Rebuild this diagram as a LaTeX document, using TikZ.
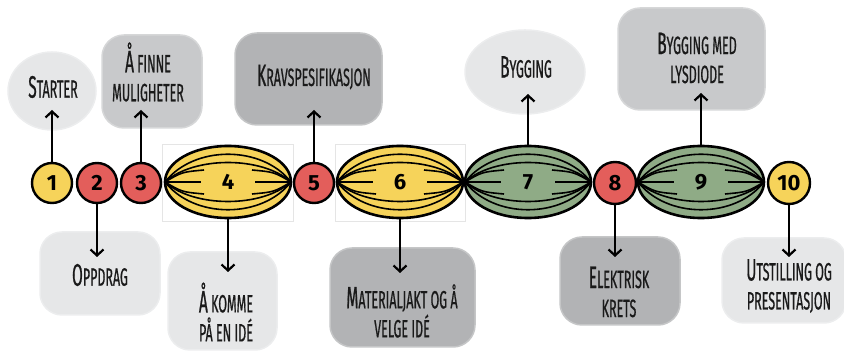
\documentclass[tikz,border=0pt]{standalone}
\usepackage{fontspec}
\setmainfont{Fira Sans}
\newfontfamily\hand[FakeStretch=0.5,FakeBold=0.6]{Fira Sans}
\usetikzlibrary{arrows.meta,shapes.geometric}
\definecolor{yel}{HTML}{F6D35A}
\definecolor{rd}{HTML}{E35E5B}
\definecolor{grn}{HTML}{8FAB86}
\definecolor{gl}{HTML}{E6E7E8}
\definecolor{gm}{HTML}{C8C9CB}
\definecolor{gd}{HTML}{B2B3B5}
\definecolor{ink}{HTML}{1A1A1A}
\newcommand\Ini[1]{{\fontsize{31}{31}\selectfont #1}}
\tikzset{
  stepcirc/.style={circle, draw=black, line width=2.4pt, minimum size=40pt, inner sep=0pt,
    font=\bfseries\fontsize{22}{22}\selectfont},
  lens/.style={ellipse, draw=black, line width=2.6pt, minimum width=126pt, minimum height=72pt,
    inner sep=0pt, font=\bfseries\fontsize{22}{22}\selectfont},
  lensline/.style={line width=1.6pt, black},
  blob/.style={rectangle, rounded corners=22pt, inner sep=0pt, draw=#1!75!white, fill=#1, line width=1.5pt},
  bub/.style={ellipse, inner sep=0pt, draw=#1!75!white, fill=#1, line width=1.5pt},
  lbl/.style={font=\hand\fontsize{25}{29}\selectfont, align=center, text=ink, inner sep=0pt},
  arr/.style={line width=2.2pt, line cap=round, -{Straight Barb[length=6pt,width=13pt]}},
  frame/.style={draw=black!10, line width=0.5pt}
}
\begin{document}
\begin{tikzpicture}[x=1pt,y=-1pt]
\useasboundingbox (0,0) rectangle (844,352);
% faint frames
\draw[frame] (162,144) rectangle (293,221);
\draw[frame] (335,144) rectangle (465,221);
% top boxes
\node[bub=gl, minimum width=88pt, minimum height=78pt] (b1) at (52,91) {};
\node[lbl] (l1) at (53,87) {\Ini{S}TARTER};
\node[blob=gm, minimum width=100pt, minimum height=93pt] (b3) at (152,81.5) {};
\node[lbl] (l3) at (148,72) {\Ini{Å} FINNE\\MULIGHETER};
\node[blob=gd, minimum width=147pt, minimum height=92pt] (b5) at (308.5,79) {};
\node[lbl] (l5) at (314,77) {\Ini{K}RAVSPESIFIKASJON};
\node[bub=gl, minimum width=120pt, minimum height=84pt] (b7) at (525,72) {};
\node[lbl] (l7) at (526,67) {\Ini{B}YGGING};
\node[blob=gm, minimum width=147pt, minimum height=102pt] (b9) at (691.5,59) {};
\node[lbl] (l9) at (697,58) {\Ini{B}YGGING MED\\LYSDIODE};
% bottom boxes
\node[blob=gl, minimum width=120pt, minimum height=83pt] (b2) at (100,273.5) {};
\node[lbl] (l2) at (100,275) {\Ini{O}PPDRAG};
\node[blob=gl, minimum width=109pt, minimum height=98pt] (b4) at (222.5,301) {};
\node[lbl] (l4) at (226,312) {\Ini{Å} KOMME\\PÅ EN IDÉ};
\node[blob=gd, minimum width=145pt, minimum height=99pt] (b6) at (402.5,297.5) {};
\node[lbl] (l6) at (402,311) {\Ini{M}ATERIALJAKT OG Å\\VELGE IDÉ};
\node[blob=gd, minimum width=120pt, minimum height=88pt] (b8) at (620,281) {};
\node[lbl] (l8) at (619,292) {\Ini{E}LEKTRISK\\KRETS};
\node[blob=gl, minimum width=124pt, minimum height=85pt] (b10) at (784,280.5) {};
\node[lbl] (l10) at (789,286) {\Ini{U}TSTILLING OG\\PRESENTASJON};
% circles
\node[stepcirc, fill=yel] (c1) at (52,183) {1};
\node[stepcirc, fill=rd] (c2) at (97,183) {2};
\node[stepcirc, fill=rd] (c3) at (141,183) {3};
\node[stepcirc, fill=rd] (c5) at (314,183) {5};
\node[stepcirc, fill=rd, minimum size=42pt] (c8) at (615,183) {8};
\node[stepcirc, fill=yel, minimum size=42pt] (c10) at (789,183) {10};
% lenses
\foreach \n/\x/\c in {4/228/yel, 6/400/yel, 7/528/grn, 9/701/grn}{
  \node[lens, fill=\c] (s\n) at (\x,182) {\n};
  \begin{scope}[shift={(\x,182)}]
    \foreach \s in {1,-1}{
      \draw[lensline] (-63,0) .. controls (-34,-37*\s) and (34,-37*\s) .. (63,0);
      \draw[lensline] (-63,0) .. controls (-34,-26*\s) and (34,-26*\s) .. (63,0);
      \draw[lensline] (-63,0) .. controls (-46,-10*\s) .. (-24,-12*\s);
      \draw[lensline] (63,0) .. controls (46,-10*\s) .. (24,-12*\s);
    }
    \draw[lensline] (-63,0) -- (-27,0);
    \draw[lensline] (27,0) -- (63,0);
  \end{scope}
}
% arrow tips
\coordinate (t1) at (52,110);
\coordinate (t2) at (97,257);
\coordinate (t3) at (141,110);
\coordinate (t4) at (228,272);
\coordinate (t5) at (314,110);
\coordinate (t6) at (400,273);
\coordinate (t7) at (528,94);
\coordinate (t8) at (615,257);
\coordinate (t9) at (701,93);
\coordinate (t10) at (789,257);
\draw[arr] (c1.north) -- (t1);
\draw[arr] (c2.south) -- (t2);
\draw[arr] (c3.north) -- (t3);
\draw[arr] (s4.south) -- (t4);
\draw[arr] (c5.north) -- (t5);
\draw[arr] (s6.south) -- (t6);
\draw[arr] (s7.north) -- (t7);
\draw[arr] (c8.south) -- (t8);
\draw[arr] (s9.north) -- (t9);
\draw[arr] (c10.south) -- (t10);
\end{tikzpicture}
\end{document}
